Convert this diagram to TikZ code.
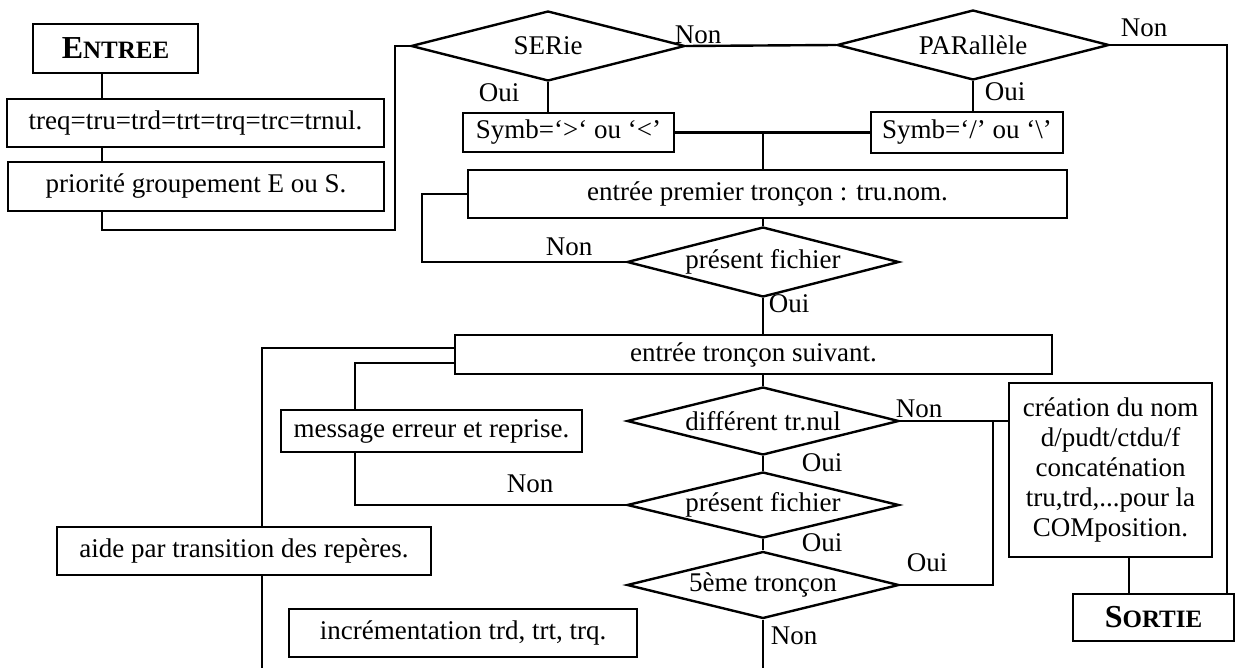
\documentclass[tikz,border=0pt]{standalone}
\usepackage{fontspec}
\setmainfont{Liberation Serif}
\usetikzlibrary{shapes.geometric}
\begin{document}
\begin{tikzpicture}[x=0.5pt,y=-0.5pt, line width=1.2pt,
  box/.style={draw, line width=1.2pt, inner sep=0pt, align=center},
  dec/.style={draw, diamond, shape aspect=4, inner sep=0pt, line width=1.2pt},
  lbl/.style={inner sep=0pt},
  font=\fontsize{13.5}{15}\selectfont]
\useasboundingbox (0,0) rectangle (1236,668);
% boxes
\node[box, minimum width=82.5pt, minimum height=24.5pt] (entree) at (115.5,48.5)
  {\bfseries{\fontsize{16}{16}\selectfont E}{\fontsize{12.5}{12.5}\selectfont NTREE}};
\node[box, minimum width=188.5pt, minimum height=24pt] (treq) at (195.5,123) {treq=tru=trd=trt=trq=trc=trnul.};
\node[box, minimum width=188pt, minimum height=24.5pt] (prio) at (196,186.5) {priorité groupement E ou S.};
\node[dec, minimum width=137pt, minimum height=35pt] (serie) at (548,46) {SERie};
\node[dec, minimum width=136pt, minimum height=35pt] (par) at (973,45) {PARallèle};
\node[box, minimum width=105.5pt, minimum height=19.5pt] (sym1) at (568.5,132.5) {Symb=‘>‘ ou ‘<’};
\node[box, minimum width=96pt, minimum height=20.5pt] (sym2) at (967,132.5) {Symb=‘/’ ou ‘\textbackslash’};
\node[box, minimum width=299.5pt, minimum height=24pt] (premier) at (767.5,194) {entrée premier tronçon : tru.nom.};
\node[dec, minimum width=136pt, minimum height=35pt] (pf1) at (763,262) {présent fichier};
\node[box, minimum width=298.5pt, minimum height=19.5pt] (suivant) at (753.5,354.5) {entrée tronçon suivant.};
\node[box, minimum width=150.5pt, minimum height=21pt] (msg) at (431.5,431) {message erreur et reprise.};
\node[dec, minimum width=136pt, minimum height=34pt] (diff) at (763,421) {différent tr.nul};
\node[dec, minimum width=136pt, minimum height=33pt] (pf2) at (763,505) {présent fichier};
\node[dec, minimum width=136pt, minimum height=33.5pt] (cinq) at (763,585) {5ème tronçon};
\node[box, minimum width=187pt, minimum height=24pt] (aide) at (244,551) {aide par transition des repères.};
\node[box, minimum width=174pt, minimum height=24pt] (incr) at (463,633) {incrémentation trd, trt, trq.};
\node[box, minimum width=101.5pt, minimum height=87pt] (creation) at (1110.5,470)
  {création du nom\\d/pudt/ctdu/f\\concaténation\\tru,trd,...pour la\\COMposition.};
\node[box, minimum width=80.5pt, minimum height=23.5pt] (sortie) at (1153.5,617.5)
  {\bfseries{\fontsize{16}{16}\selectfont S}{\fontsize{12.5}{12.5}\selectfont ORTIE}};
% labels
\node[lbl] (l1) at (698,35) {Non};
\node[lbl] (l2) at (499,93) {Oui};
\node[lbl] (l3) at (1005,92) {Oui};
\node[lbl] (l4) at (1144,28) {Non};
\node[lbl] (l5) at (569,247) {Non};
\node[lbl] (l6) at (789,304) {Oui};
\node[lbl] (l7) at (919,409) {Non};
\node[lbl] (l8) at (822,463) {Oui};
\node[lbl] (l9) at (530,484) {Non};
\node[lbl] (l10) at (822,543) {Oui};
\node[lbl] (l11) at (927,563) {Oui};
\node[lbl] (l12) at (794,636) {Non};
% helper coordinates
\coordinate (xA) at (102,0);
\coordinate (xR) at (1227,0);
\coordinate (jB) at (763,133);
\coordinate (yA) at (0,348);
\coordinate (xL) at (262,0);
\coordinate (bot) at (262,668);
\coordinate (yB) at (0,363);
\coordinate (xM) at (355,0);
\coordinate (bot2) at (763,668);
\coordinate (xC) at (993,0);
\coordinate (xD) at (1129,0);
% connectors
\draw (entree.south -| xA) -- (treq.north -| xA);
\draw (treq.south -| xA) -- (prio.north -| xA);
\draw (prio.south -| xA) |- (395,230) |- (serie.west);
\draw (serie.south) -- (serie.south |- sym1.north);
\draw (serie.east) -- (par.west);
\draw (par.south) -- (par.south |- sym2.north);
\draw (par.east) -| (sortie.north -| xR);
\draw (sym1.east) -- (sym2.west);
\draw (jB) -- (jB |- premier.north);
\draw (premier.south -| pf1.north) -- (pf1.north);
\draw (premier.west) -- ++(-45,0) |- (pf1.west);
\draw (pf1.south) -- (pf1.south |- suivant.north);
\draw (suivant.west |- yA) -| (aide.north -| xL);
\draw (aide.south -| xL) -- (bot);
\draw (suivant.west |- yB) -| (msg.north -| xM);
\draw (msg.south -| xM) |- (pf2.west);
\draw (suivant.south -| diff.north) -- (diff.north);
\draw (diff.south) -- (pf2.north);
\draw (pf2.south) -- (cinq.north);
\draw (cinq.south) -- (bot2);
\draw (diff.east) -- (diff.east -| creation.west);
\draw (cinq.east) -| (xC |- diff.east);
\draw (creation.south -| xD) -- (sortie.north -| xD);
\end{tikzpicture}
\end{document}
